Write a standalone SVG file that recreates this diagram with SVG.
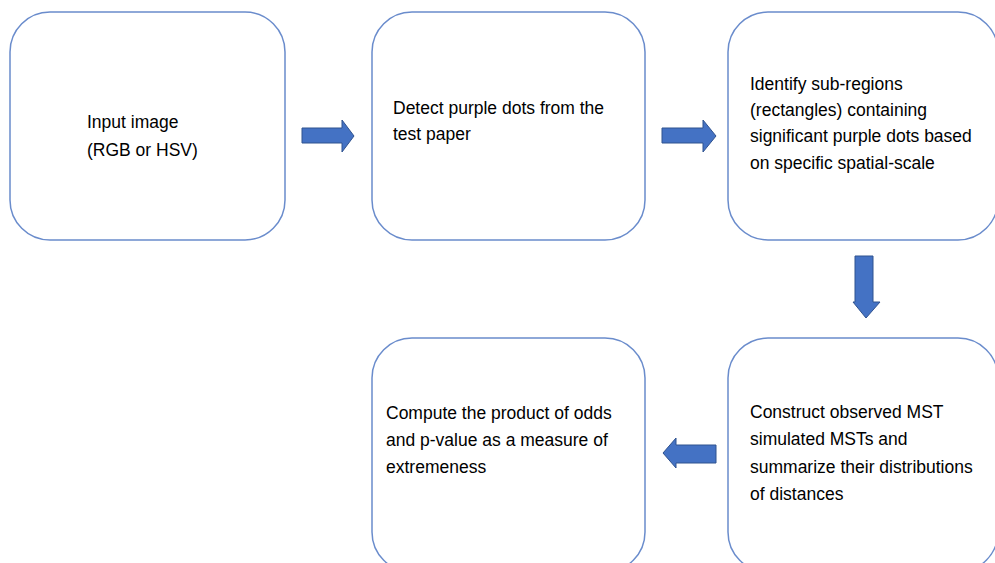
<svg xmlns="http://www.w3.org/2000/svg" width="995" height="563" viewBox="0 0 995 563">
<style>
.box{fill:#ffffff;stroke:#6a8ccc;stroke-width:1.5}
.arr{fill:#4472c4;stroke:#2f528f;stroke-width:1}
text{font-family:"Liberation Sans",Arial,sans-serif;font-size:17.5px;fill:#000}
</style>
<rect width="995" height="563" fill="#ffffff"/>
<g id="n1"><rect class="box" x="10" y="12" width="275" height="228" rx="40"/>
<text x="87" y="128">Input image</text><text x="87" y="156">(RGB or HSV)</text></g>
<g id="n2"><rect class="box" x="372" y="12" width="273" height="228" rx="40"/>
<text x="393" y="114">Detect purple dots from the</text><text x="393" y="140">test paper</text></g>
<g id="n3"><rect class="box" x="728" y="12" width="270" height="228" rx="40"/>
<text x="750" y="90">Identify sub-regions</text><text x="750" y="116">(rectangles) containing</text><text x="750" y="142">significant purple dots based</text><text x="750" y="169">on specific spatial-scale</text></g>
<g id="n4"><rect class="box" x="728" y="338" width="270" height="234" rx="40"/>
<text x="750" y="418">Construct observed MST</text><text x="750" y="445">simulated MSTs and</text><text x="750" y="473">summarize their distributions</text><text x="750" y="500">of distances</text></g>
<g id="n5"><rect class="box" x="372" y="338" width="273" height="234" rx="40"/>
<text x="386" y="419">Compute the product of odds</text><text x="386" y="446">and p-value as a measure of</text><text x="386" y="473">extremeness</text></g>
<g id="connectors">
<path class="arr" d="M302,128 H342 V120 L354,136 L342,152 V143 H302 Z"/>
<path class="arr" d="M662,128 H703 V120 L716,136 L703,152 V143 H662 Z"/>
<path class="arr" d="M855,256 H873 V302 H880 L866,318 L853,302 H855 Z"/>
<path class="arr" d="M716,445 H676 V438 L663,453 L676,468 V463 H716 Z"/>
</g>
</svg>
